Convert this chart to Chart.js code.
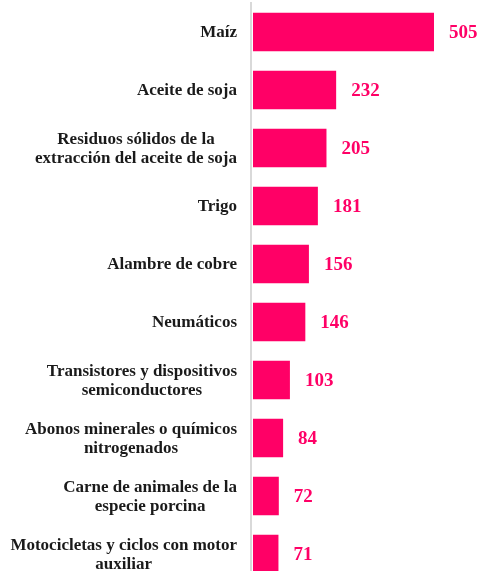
<!DOCTYPE html>
<html>
<head>
<meta charset="utf-8">
<script src="https://cdn.jsdelivr.net/npm/chart.js@4/dist/chart.umd.min.js"></script>
<style>
  html, body { margin: 0; padding: 0; width: 477px; height: 571px; overflow: hidden; background: #ffffff; }
  #wrap { width: 477px; height: 584px; }
</style>
</head>
<body>
<div id="wrap"><canvas id="c" width="477" height="584"></canvas></div>
<script>
const categories = [
  ["Maíz"],
  ["Aceite de soja"],
  ["Residuos sólidos de la", "extracción del aceite de soja"],
  ["Trigo"],
  ["Alambre de cobre"],
  ["Neumáticos"],
  ["Transistores y dispositivos", "semiconductores"],
  ["Abonos minerales o químicos", "nitrogenados"],
  ["Carne de animales de la", "especie porcina"],
  ["Motocicletas y ciclos con motor", "auxiliar"]
];
const values = [505, 232, 205, 181, 156, 146, 103, 84, 72, 71];

const BAR_COLOR = "#FF0066";
const LABEL_FONT = "bold 17px 'Liberation Serif', 'Times New Roman', serif";
const VALUE_FONT = "bold 19px 'Liberation Serif', 'Times New Roman', serif";

const categoryLabelsPlugin = {
  id: "categoryLabels",
  afterDraw(chart) {
    const ctx = chart.ctx;
    const yScale = chart.scales.y;
    const rightEdge = chart.chartArea.left - 14;
    const lineH = 19;
    ctx.save();
    ctx.font = LABEL_FONT;
    ctx.fillStyle = "#1a1a1a";
    ctx.textBaseline = "middle";
    ctx.textAlign = "center";
    chart.data.labels.forEach((lab, i) => {
      const lines = Array.isArray(lab) ? lab : [lab];
      const widest = Math.max(...lines.map(l => ctx.measureText(l).width));
      const cx = rightEdge - widest / 2;
      const cy = yScale.getPixelForTick(i);
      const startY = cy - (lines.length - 1) * lineH / 2 + 1;
      lines.forEach((l, k) => ctx.fillText(l, cx, startY + k * lineH));
    });
    ctx.restore();
  }
};

const valueLabelsPlugin = {
  id: "valueLabels",
  afterDatasetsDraw(chart) {
    const ctx = chart.ctx;
    const meta = chart.getDatasetMeta(0);
    ctx.save();
    ctx.font = VALUE_FONT;
    ctx.fillStyle = BAR_COLOR;
    ctx.textAlign = "left";
    ctx.textBaseline = "middle";
    meta.data.forEach((bar, i) => {
      ctx.fillText(String(chart.data.datasets[0].data[i]), bar.x + 15, bar.y + 1);
    });
    ctx.restore();
  }
};

new Chart(document.getElementById("c"), {
  type: "bar",
  data: {
    labels: categories,
    datasets: [{
      data: values,
      backgroundColor: BAR_COLOR,
      borderWidth: 0,
      categoryPercentage: 1.0,
      barPercentage: 0.66
    }]
  },
  options: {
    indexAxis: "y",
    responsive: false,
    devicePixelRatio: 1,
    animation: false,
    layout: { padding: { top: 3, bottom: 1, left: 0, right: 0 } },
    plugins: { legend: { display: false }, tooltip: { enabled: false } },
    scales: {
      x: {
        display: false,
        min: -5.6,
        max: 625
      },
      y: {
        ticks: { display: false },
        grid: { display: false, drawTicks: false },
        border: { display: true, color: "#d9d9d9", width: 2 },
        afterFit(scale) { scale.width = 251; }
      }
    }
  },
  plugins: [categoryLabelsPlugin, valueLabelsPlugin]
});
</script>
</body>
</html>
